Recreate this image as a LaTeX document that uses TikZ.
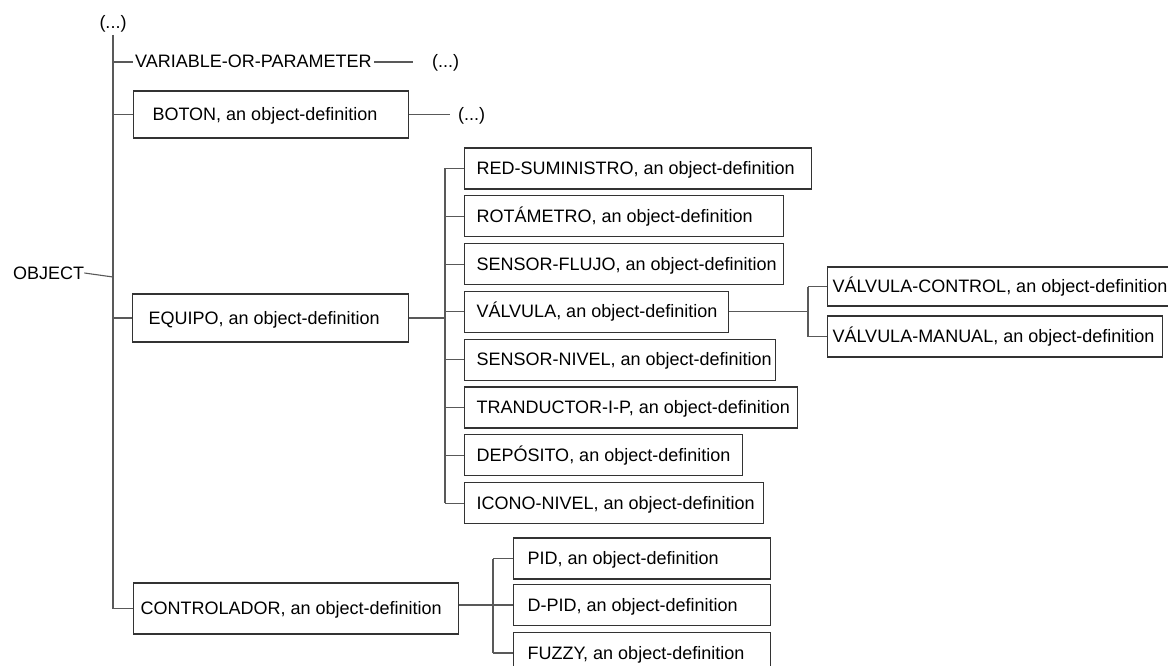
\documentclass[tikz,border=0pt]{standalone}
\usepackage{fontspec}
\setmainfont{Liberation Sans}
\begin{document}
\begin{tikzpicture}[x=1pt,y=-1pt,
  every node/.style={font=\fontsize{18}{20}\selectfont, text height=13pt, text depth=1pt},
  % box with fixed outer width (#2) and left text indent (#1)
  objbox/.style n args={3}{draw=black!80, line width=1.1pt, anchor=west,
    inner xsep=0pt, inner ysep=0pt, minimum height=#3,
    execute at begin node={\hbox to #2\bgroup\hskip#1\relax},
    execute at end node={\hfil\egroup}},
  link/.style={draw=black!65, line width=1.1pt},
  plain/.style={inner xsep=0pt, inner ysep=0pt}
]
\useasboundingbox (0,0) rectangle (1168,666);
\fill[white] (0,0) rectangle (1168,666);
\clip (0,0) rectangle (1168,666);

% root and first level
\node[plain] (dots top) at (113,23) {(...)};
\node[plain, anchor=west] (object) at (13,273) {OBJECT};
\node[plain, anchor=west, inner xsep=2.5pt] (var) at (132.5,62) {VARIABLE-OR-PARAMETER};
\node[plain, anchor=west] (dots var) at (432,62) {(...)};
\node[objbox={19pt}{275pt}{47pt}] (boton) at (133,114.5) {BOTON, an object-definition};
\node[plain, anchor=west] (dots boton) at (458,114.5) {(...)};
\node[objbox={16pt}{276pt}{48pt}] (equipo) at (132,318) {EQUIPO, an object-definition};
\node[objbox={7pt}{325pt}{51pt}] (ctrl) at (133,608.5) {CONTROLADOR, an object-definition};

% EQUIPO subclasses
\node[objbox={12pt}{347pt}{41pt}] (red) at (464,168.5) {RED-SUMINISTRO, an object-definition};
\node[objbox={12pt}{319pt}{41pt}] (rot) at (464,216.3) {ROTÁMETRO, an object-definition};
\node[objbox={12pt}{319pt}{41pt}] (sflujo) at (464,264.1) {SENSOR-FLUJO, an object-definition};
\node[objbox={12pt}{264pt}{41pt}] (valv) at (464,311.9) {VÁLVULA, an object-definition};
\node[objbox={12pt}{311pt}{41pt}] (snivel) at (464,359.7) {SENSOR-NIVEL, an object-definition};
\node[objbox={12pt}{333pt}{41pt}] (trand) at (464,407.5) {TRANDUCTOR-I-P, an object-definition};
\node[objbox={12pt}{278pt}{41pt}] (depo) at (464,455.3) {DEPÓSITO, an object-definition};
\node[objbox={12pt}{299pt}{41pt}] (icono) at (464,503.1) {ICONO-NIVEL, an object-definition};

% VÁLVULA subclasses
\node[objbox={5pt}{350pt}{39pt}] (vcontrol) at (827,286.5) {VÁLVULA-CONTROL, an object-definition};
\node[objbox={5pt}{335pt}{41pt}] (vmanual) at (827,336.5) {VÁLVULA-MANUAL, an object-definition};

% CONTROLADOR subclasses
\node[objbox={14pt}{257pt}{41pt}] (pid) at (513,558.5) {PID, an object-definition};
\node[objbox={14pt}{257pt}{41pt}] (dpid) at (513,605) {D-PID, an object-definition};
\node[objbox={14pt}{257pt}{41pt}] (fuzzy) at (513,653) {FUZZY, an object-definition};

% bus lines
\coordinate (trunk top) at (113,35);
\coordinate (obj join) at (113,277);
\coordinate (eq bus) at (445,0);
\coordinate (val bus) at (808,0);
\coordinate (ctrl bus) at (493,0);

% main trunk
\draw[link] (trunk top) -- (trunk top |- ctrl.west) -- (ctrl.west);
\draw[link] (object.east) -- (obj join);
\draw[link] (trunk top |- var.west) -- (var.west);
\draw[link, shorten >=19pt] (var.east) -- (dots var.west);
\draw[link] (trunk top |- boton.west) -- (boton.west);
\draw[link, shorten >=8pt] (boton.east) -- (dots boton.west);
\draw[link] (trunk top |- equipo.west) -- (equipo.west);

% EQUIPO branch
\draw[link] (equipo.east) -- (eq bus |- equipo.east);
\draw[link] (eq bus |- red.west) -- (eq bus |- icono.west);
\foreach \n in {red,rot,sflujo,valv,snivel,trand,depo,icono}
  \draw[link] (eq bus |- \n.west) -- (\n.west);

% VÁLVULA branch
\draw[link] (valv.east) -- (val bus |- valv.east);
\draw[link] (val bus |- vcontrol.west) -- (val bus |- vmanual.west);
\draw[link] (val bus |- vcontrol.west) -- (vcontrol.west);
\draw[link] (val bus |- vmanual.west) -- (vmanual.west);

% CONTROLADOR branch
\draw[link] (ctrl.east |- dpid.west) -- (dpid.west);
\draw[link] (ctrl bus |- pid.west) -- (ctrl bus |- fuzzy.west);
\draw[link] (ctrl bus |- pid.west) -- (pid.west);
\draw[link] (ctrl bus |- fuzzy.west) -- (fuzzy.west);
\end{tikzpicture}
\end{document}
